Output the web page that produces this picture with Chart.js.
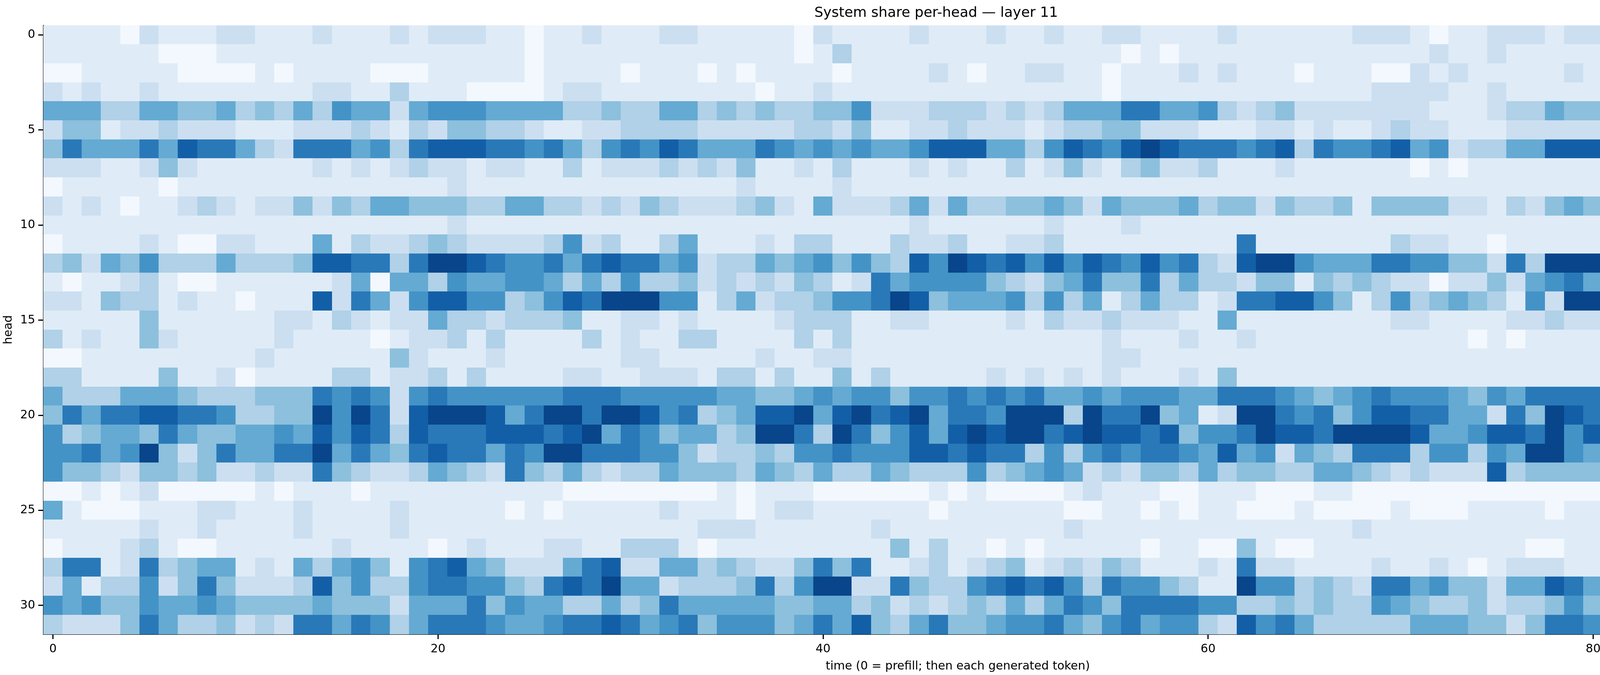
<!DOCTYPE html>
<html>
<head>
<meta charset="utf-8">
<script src="https://cdn.jsdelivr.net/npm/chart.js@4/dist/chart.umd.min.js"></script>
<style>
  body { margin: 0; background: #fff; width: 5985px; height: 1728px; overflow: hidden; }
  canvas { position: absolute; top: 0; }
</style>
</head>
<body>
<canvas id="heat" width="4850" height="1728" style="left:0;width:4850px;height:1728px"></canvas>
<canvas id="cbar" width="330" height="1728" style="left:5060px;width:330px;height:1728px"></canvas>
<script>
// share per head, in tenths (0-9)
// left half: time 0..46, right half: time 47..93, lastCol: time 94
const leftHalf = [
  "11110211 12211121 11212221 10112111 22111110 21111211",
  "11111100 01111111 11111111 10111111 11111110 13111111",
  "00111110 00010111 10001111 10111101 11010111 10111121",
  "21211211 11111122 11311100 00122111 11111011 21111111",
  "55533554 45343536 55256665 55533433 55343433 44622233",
  "24412232 22111222 32132443 32112233 33222223 32411223",
  "47555758 77532777 56378887 76753676 87555765 65655688",
  "22211242 11111121 21232212 21131222 32324112 13111211",
  "01111101 11111111 11111211 11111111 11112111 12111111",
  "21210112 32122424 35544433 55332324 32223421 52223526",
  "11111111 11111111 11111211 11111111 11111111 11111211",
  "01111210 02211151 32234322 22362311 35111213 31113221",
  "34254633 35333488 77379987 66757877 56233545 64643869",
  "10112310 01111112 50553655 66535363 34232324 31275664",
  "22143312 11011182 75268866 34687999 66135233 46679845",
  "11111411 11112213 21225332 33341122 12111123 33112211",
  "31211421 11112111 10122313 11113121 13311113 13111111",
  "00111111 11121111 11421112 11111122 11111211 22111111",
  "33111141 12011113 31223131 11122112 22133131 14131111",
  "53335554 33344476 76267666 66677766 66655445 65664665",
  "47577887 76334496 97289998 57997998 67345889 58978957",
  "63455475 44556586 87387778 88789576 45534997 39746858",
  "66756942 47557795 75478775 76997776 64233436 67666886",
  "64432443 42232274 32235432 74353233 54443543 53354334",
  "00101200 00010111 01111111 11100000 00010111 00000010",
  "51000111 22111211 11211111 01011111 21110122 11111101",
  "11111211 21111211 11211111 11111111 11222111 11121111",
  "01112310 01111112 11110121 11221133 31011111 11114131",
  "37712734 55121535 64167854 22257822 55343224 74711231",
  "25133624 74222384 63367766 43787955 23334736 99227436",
  "65644655 65444454 44255574 65533534 75555544 55342323",
  "32224753 34232775 76357776 55677875 67466645 75843574"
];
const rightHalf = [
  "11211211 22111121 11111222 10112221 22112122 1332121",
  "11111111 10101111 11111111 12112111 11111111 2111111",
  "10112211 01112121 11011100 21211111 21122113 2121021",
  "11111111 01111111 11111122 22112111 11111111 1111111",
  "33232355 57755632 34222222 21112335 44354533 5433552",
  "32221233 44222111 22121123 22111222 22323222 1222121",
  "88553687 68987776 78376678 56233558 88757773 5756589",
  "21131242 13422311 12111111 01011111 11111113 1231243",
  "11111111 11111111 11111111 11111111 11111111 1111111",
  "53344542 54445344 24334144 44221324 54422243 4544366",
  "11111211 12111111 11111111 11111111 11111111 1111121",
  "31122311 11111117 11111113 22110111 11111111 1111111",
  "98786868 76867328 99655577 66442739 99989795 5544399",
  "66432457 44735332 44143432 20224256 75556655 7754461",
  "55563635 13533127 78864136 34543162 99998947 3424348",
  "11121322 32221151 11111112 21111223 22212322 3122232",
  "11111111 21112112 11111111 11101011 11111111 1211212",
  "11111111 22111111 11111111 11111111 11111111 1122111",
  "11212121 21112141 11111111 11111111 11112111 3311111",
  "76767556 56665577 76545676 66546577 77777777 5577654",
  "77699939 77945129 97674688 77552749 87989674 6724499",
  "89899789 88784667 98879999 85568879 68878867 9987778",
  "78773636 76776585 62543777 36636599 65556757 8877589",
  "36345652 32443534 43355432 32228344 44552355 4553525",
  "01000012 11100111 00011000 00000000 00100100 0001100",
  "11111100 11010110 00100001 00011110 11101111 0111010",
  "11111121 11111111 11111211 11111111 11111111 1111132",
  "11010111 11011004 10011111 11111100 11112111 1111121",
  "12341232 43111217 22111121 12101222 11112424 1432131",
  "36787863 76643119 66343277 56442558 75665475 3743344",
  "34353576 47777663 34343365 43342334 64544377 6765776",
  "44566754 67566328 67533333 55544247 76555557 3624346"
];
const lastCol = [1,1,0,1,2,1,4,2,1,3,1,1,5,1,7,1,1,1,1,6,8,6,4,3,0,1,1,1,3,3,3,6];

const xTicks = [0, 20, 40, 60, 80];
const yTicks = [0, 5, 10, 15, 20, 25, 30];
const cbarTicks = [0, 0.2, 0.4, 0.6, 0.8, 1.0];
const nCols = 95;

// Blues colormap
const blues = ['#f7fbff','#deebf7','#c6dbef','#9ecae1','#6baed6','#4292c6','#2171b5','#08519c','#08306b'];
function hex2rgb(h) { return [1,3,5].map(i => parseInt(h.substr(i,2),16)); }
const bluesRgb = blues.map(hex2rgb);
function colorFor(v) {
  v = Math.max(0, Math.min(1, v)) * (bluesRgb.length - 1);
  const i = Math.min(Math.floor(v), bluesRgb.length - 2), t = v - i;
  const a = bluesRgb[i], b = bluesRgb[i+1];
  return `rgb(${a.map((c,k) => Math.round(c + (b[k]-c)*t)).join(',')})`;
}

// build cell list
const cells = [];
leftHalf.forEach((row, h) => {
  const digits = (row.replace(/ /g,'').slice(0,47) + rightHalf[h].replace(/ /g,'').slice(0,47)).split('').map(Number);
  digits.push(lastCol[h]);
  digits.forEach((d, t) => cells.push({x: t, y: h, v: d * 0.1 + 0.02}));
});

const font = {family: 'DejaVu Sans', size: 30};
const axisBlack = {display: true, drawOnChartArea: false, color: '#000', tickLength: 13, tickWidth: 3};

const heatPlugin = {
  id: 'heat',
  beforeDatasetsDraw(chart) {
    const {ctx, scales: {x, y}} = chart;
    ctx.save();
    cells.forEach(c => {
      const x0 = x.getPixelForValue(c.x - 0.5), x1 = x.getPixelForValue(c.x + 0.5);
      const y0 = y.getPixelForValue(c.y - 0.5), y1 = y.getPixelForValue(c.y + 0.5);
      ctx.fillStyle = colorFor(c.v);
      ctx.fillRect(Math.floor(x0), Math.floor(y0), Math.ceil(x1 - x0) + 1, Math.ceil(y1 - y0) + 1);
    });
    ctx.restore();
  }
};

new Chart(document.getElementById('heat'), {
  type: 'scatter',
  data: { datasets: [{ data: cells, pointRadius: 0 }] },
  plugins: [heatPlugin],
  options: {
    responsive: false, animation: false, devicePixelRatio: 1,
    layout: { padding: { right: 57 } },
    plugins: {
      legend: { display: false }, tooltip: { enabled: false },
      title: { display: true, text: 'System share per-head — layer 11', color: '#000',
               font: {family: 'DejaVu Sans', size: 36, weight: 'normal'}, padding: {top: 12, bottom: 10} }
    },
    scales: {
      x: {
        type: 'linear', min: -0.5, max: nCols - 0.5,
        afterBuildTicks: s => { s.ticks = xTicks.map(v => ({value: v})); },
        afterFit: s => { s.height = 105; },
        ticks: { color: '#000', font, padding: 8, maxRotation: 0 },
        grid: axisBlack, border: { color: '#000', width: 3 },
        title: { display: true, text: 'time (0 = prefill; then each generated token)', color: '#000', font, padding: {top: 4} }
      },
      y: {
        type: 'linear', min: -0.5, max: 31.5, reverse: true,
        afterBuildTicks: s => { s.ticks = yTicks.map(v => ({value: v})); },
        afterFit: s => { s.width = 111; },
        ticks: { color: '#000', font, padding: 8 },
        grid: axisBlack, border: { color: '#000', width: 3 },
        title: { display: true, text: 'head', color: '#000', font, padding: {bottom: 4} }
      }
    }
  }
});

const cbarPlugin = {
  id: 'cbar',
  beforeDatasetsDraw(chart) {
    const {ctx, chartArea: a, scales: {y}} = chart;
    const g = ctx.createLinearGradient(0, y.getPixelForValue(0), 0, y.getPixelForValue(1));
    blues.forEach((c, i) => g.addColorStop(i / (blues.length - 1), c));
    ctx.save();
    ctx.fillStyle = g;
    ctx.fillRect(a.left, a.top, a.right - a.left, a.bottom - a.top);
    ctx.strokeStyle = '#000'; ctx.lineWidth = 3;
    ctx.strokeRect(a.left, a.top, a.right - a.left, a.bottom - a.top);
    ctx.restore();
  }
};

new Chart(document.getElementById('cbar'), {
  type: 'scatter',
  data: { datasets: [{ data: [], pointRadius: 0 }] },
  plugins: [cbarPlugin],
  options: {
    responsive: false, animation: false, devicePixelRatio: 1,
    layout: { padding: { left: 24, top: 65, bottom: 105 } },
    plugins: { legend: { display: false }, tooltip: { enabled: false } },
    scales: {
      x: { display: false, min: 0, max: 1 },
      y: {
        position: 'right', min: 0, max: 1,
        afterBuildTicks: s => { s.ticks = cbarTicks.map(v => ({value: v})); },
        afterFit: s => { s.width = 222; },
        ticks: { color: '#000', font, padding: 8, callback: v => v.toFixed(1) },
        grid: axisBlack, border: { display: false }
      }
    }
  }
});
</script>
</body>
</html>
